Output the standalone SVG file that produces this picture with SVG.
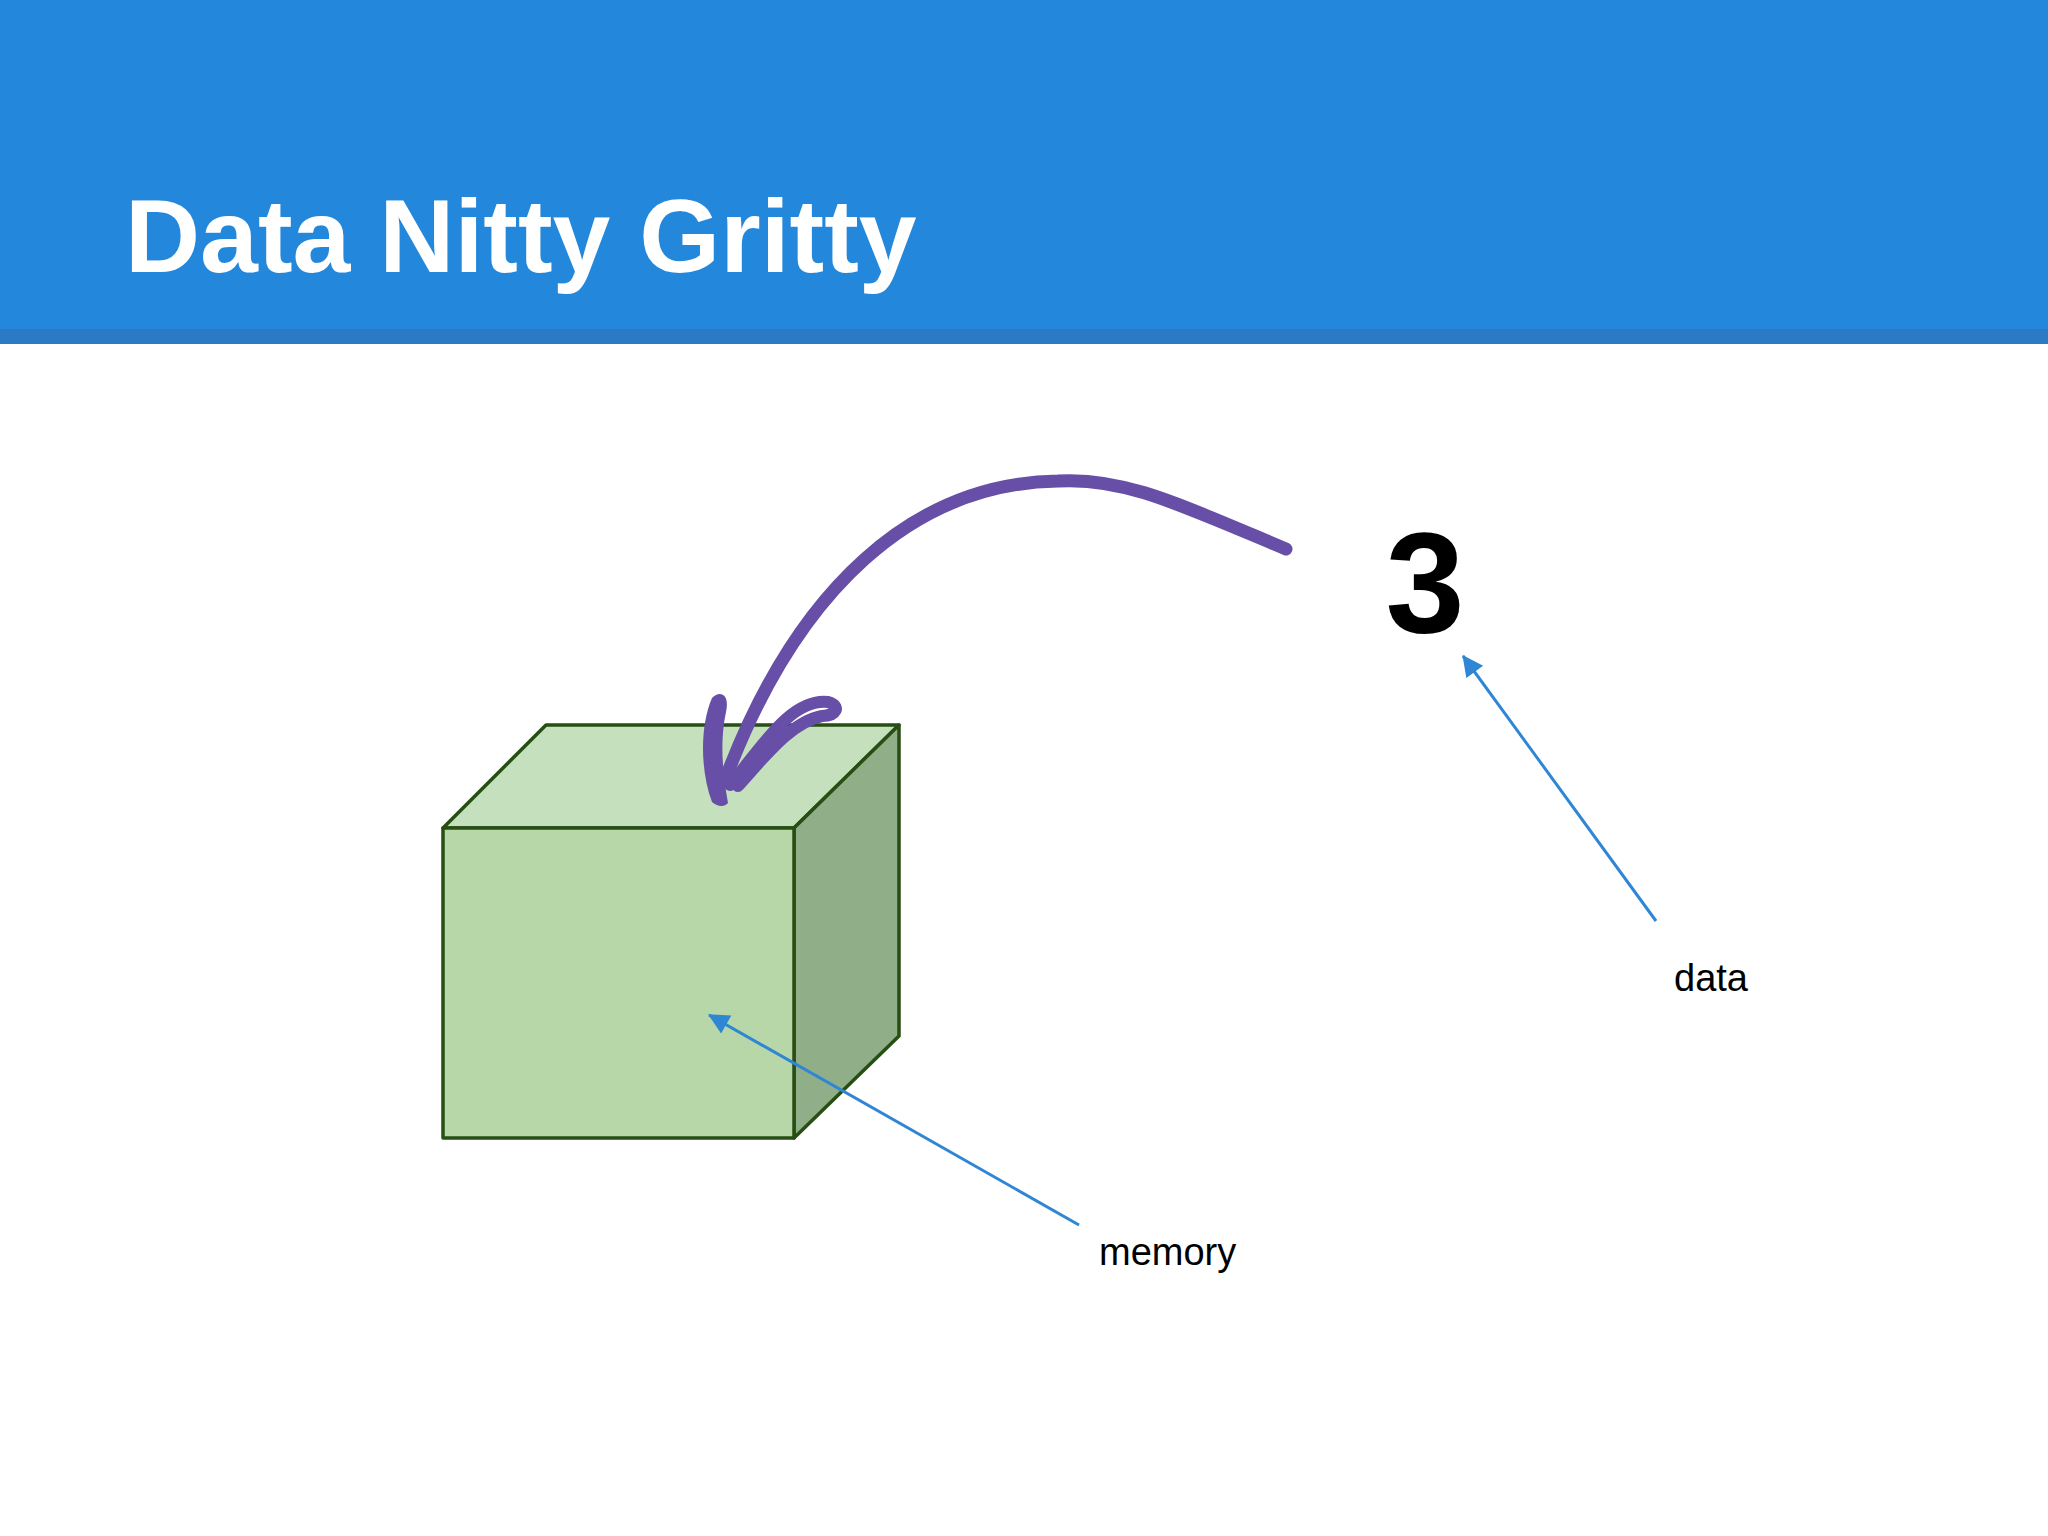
<svg xmlns="http://www.w3.org/2000/svg" width="2048" height="1536" viewBox="0 0 2048 1536">
<defs>
<style>
.face{stroke:#274e13;stroke-width:3.5;stroke-linejoin:round}
.ptr{stroke:#2f86d4;stroke-width:3;fill:none}
.lbl{font-family:"Liberation Sans",Arial,sans-serif;font-size:38px;fill:#000}
.pur{stroke:#674ea7;fill:none;stroke-linecap:round}
</style>
<marker id="ah" viewBox="0 0 10 10" refX="9" refY="5" markerWidth="8" markerHeight="8" markerUnits="userSpaceOnUse" orient="auto" style="overflow:visible">
<path d="M0,0 L10,5 L0,10 Z" fill="#2f86d4" transform="scale(2.6) translate(-6,-3)"/>
</marker>
</defs>
<rect width="2048" height="1536" fill="#fff"/>
<g id="header">
<rect x="0" y="0" width="2048" height="344" fill="#2388db"/>
<rect x="0" y="329" width="2048" height="15" fill="#2a7bc4"/>
<text x="125" y="272" font-family="Liberation Sans,Arial,sans-serif" font-weight="bold" font-size="104" fill="#fff">Data Nitty Gritty</text>
</g>
<g id="memory-box">
<polygon class="face" fill="#c5e0bd" points="443,828 546,725 899,725 794,828"/>
<polygon class="face" fill="#90ae88" points="794,828 899,725 899,1036 794,1138"/>
<rect class="face" fill="#b8d7a8" x="443" y="828" width="351" height="310"/>
</g>
<g id="value3">
<text x="1425" y="632" text-anchor="middle" font-family="Liberation Sans,Arial,sans-serif" font-weight="bold" font-size="142" fill="#000">3</text>
</g>
<g id="connectors">
<path class="pur" stroke-width="13" stroke-linecap="butt" d="M1286,549 C1176,503 1123,477 1058,481 C914,483 797,588 725,780"/>
<path fill="#674ea7" d="M712,698 C720,690 730,694 726,712 C720,740 722,770 728,803 C724,808 716,806 712,802 C700,770 700,725 712,698 Z"/>
<path class="pur" stroke-width="12" d="M730,785 C760,750 790,698 828,702 C842,706 836,716 822,716 C790,722 762,760 738,786"/>
<line class="ptr" x1="1656" y1="921" x2="1463" y2="656" marker-end="url(#ah)"/>
<line class="ptr" x1="1079" y1="1225" x2="709" y2="1015" marker-end="url(#ah)"/>
</g>
<g id="labels">
<text class="lbl" x="1674" y="991">data</text>
<text class="lbl" x="1099" y="1265">memory</text>
</g>
</svg>
